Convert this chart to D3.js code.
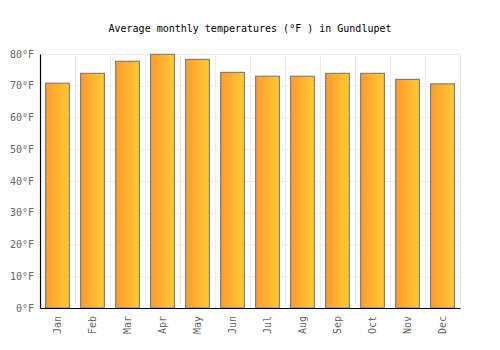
<!DOCTYPE html>
<html>
<head>
<meta charset="utf-8">
<script src="https://cdn.jsdelivr.net/npm/d3@7"></script>
<style>
  body { margin: 0; background: #fff; }
  svg { display: block; font-family: "DejaVu Sans Mono", monospace; }
</style>
</head>
<body>
<div id="root"></div>
<script>
const months = ["Jan","Feb","Mar","Apr","May","Jun","Jul","Aug","Sep","Oct","Nov","Dec"];
const temps = [70.8, 73.9, 77.7, 79.9, 78.3, 74.2, 73.0, 73.0, 73.9, 73.9, 72.0, 70.6];
const yTicks = [0, 10, 20, 30, 40, 50, 60, 70, 80];

const width = 500, height = 350;
const margin = {top: 54, right: 40, bottom: 42, left: 40};

const svg = d3.select('#root').append('svg')
  .attr('width', width)
  .attr('height', height);

const defs = svg.append('defs');
const grad = defs.append('linearGradient')
  .attr('id', 'barGrad')
  .attr('x1', '0%').attr('x2', '100%')
  .attr('y1', '0%').attr('y2', '0%');
grad.append('stop').attr('offset', '0%').attr('stop-color', '#ff9a2e');
grad.append('stop').attr('offset', '100%').attr('stop-color', '#ffcb33');

const x = d3.scaleBand()
  .domain(months)
  .range([margin.left, width - margin.right])
  .paddingInner(0.32)
  .paddingOuter(0.16);

const y = d3.scaleLinear()
  .domain([0, 80])
  .range([height - margin.bottom, margin.top]);

// grid
const band = (width - margin.left - margin.right) / months.length;
svg.append('g')
  .selectAll('line')
  .data(yTicks)
  .join('line')
  .attr('x1', margin.left).attr('x2', width - margin.right)
  .attr('y1', d => y(d) + 0.5).attr('y2', d => y(d) + 0.5)
  .attr('stroke', '#ececec');

svg.append('g')
  .selectAll('line')
  .data(d3.range(months.length + 1))
  .join('line')
  .attr('x1', i => margin.left + i * band + 0.5)
  .attr('x2', i => margin.left + i * band + 0.5)
  .attr('y1', margin.top).attr('y2', height - margin.bottom)
  .attr('stroke', '#ececec');

// bars
svg.append('g')
  .selectAll('rect')
  .data(temps)
  .join('rect')
  .attr('x', (d, i) => x(months[i]))
  .attr('width', x.bandwidth())
  .attr('y', d => y(d))
  .attr('height', d => y(0) - y(d))
  .attr('fill', 'url(#barGrad)')
  .attr('stroke', '#808080')
  .attr('stroke-width', 1.2);

// y axis
const yAxis = svg.append('g')
  .attr('transform', `translate(${margin.left},0)`)
  .call(d3.axisLeft(y).tickValues(yTicks).tickFormat(d => d + '°F').tickSize(0).tickPadding(6));
yAxis.select('.domain').attr('stroke', '#000').attr('stroke-width', 1.2);
yAxis.selectAll('text').attr('fill', '#666').style('font-size', '10px')
  .style('font-family', '"DejaVu Sans Mono", monospace');

// x axis
const xAxis = svg.append('g')
  .attr('transform', `translate(0,${height - margin.bottom})`)
  .call(d3.axisBottom(x).tickSize(0).tickPadding(0));
xAxis.select('.domain').attr('stroke', '#000').attr('stroke-width', 1.2);
xAxis.selectAll('text')
  .attr('fill', '#666')
  .style('font-size', '10px')
  .style('font-family', '"DejaVu Sans Mono", monospace')
  .attr('text-anchor', 'end')
  .attr('dy', '0.35em')
  .attr('transform', 'translate(0,8) rotate(-90)')
  .attr('x', 0).attr('y', 0);

// title
svg.append('text')
  .attr('x', width / 2)
  .attr('y', 32)
  .attr('text-anchor', 'middle')
  .style('font-size', '10px')
  .attr('fill', '#000')
  .text('Average monthly temperatures (°F ) in Gundlupet');
</script>
</body>
</html>
